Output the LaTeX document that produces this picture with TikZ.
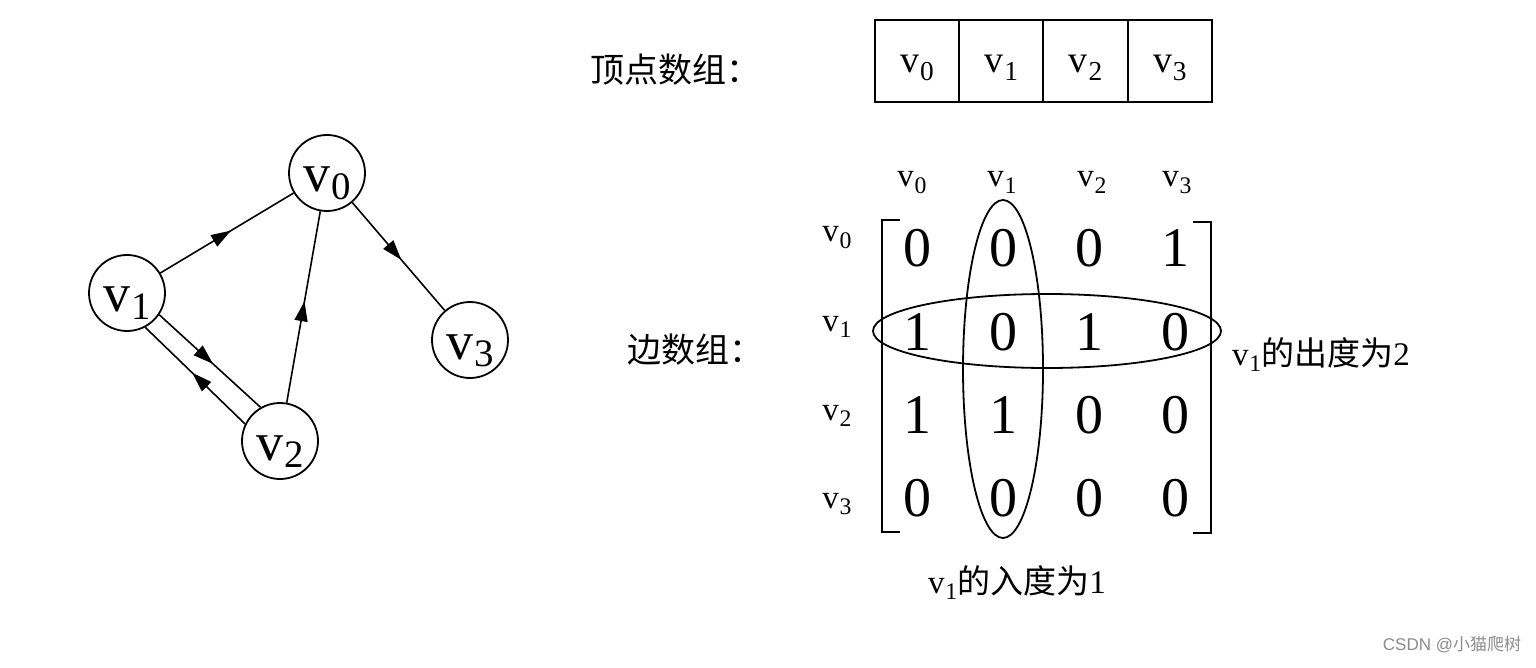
\documentclass[tikz,border=0pt]{standalone}
\usepackage{fontspec}
\usepackage{graphicx}
\setmainfont{Liberation Serif}
\newfontfamily\cjk{Noto Sans CJK SC}
\newfontfamily\wmfont{Liberation Sans}
\usetikzlibrary{decorations.markings,arrows.meta}
\newcommand{\vvsub}[2][0.2em]{v\kern0.02em\raisebox{-#1}{\scalebox{0.72}{#2}}}
\newcommand{\fs}[1]{\fontsize{#1pt}{#1pt}\selectfont}
\begin{document}
\begin{tikzpicture}[x=1pt,y=-1pt,
  vert/.style={circle,draw,line width=1.8pt,minimum size=76pt,inner sep=0pt,font=\fs{54},text height=38pt,text depth=0pt},
  edge/.style={line width=1.6pt},
  midarrow/.style={edge,decoration={markings,mark=at position 0.53 with {\arrow{Triangle[length=20pt,width=13pt]}}},postaction={decorate}},
  cell/.style={draw,line width=2pt,minimum width=84.25pt,minimum height=82pt,inner sep=0pt,font=\fs{38},text height=23pt,text depth=0pt},
  entry/.style={font=\fs{56},inner sep=0pt},
  hdr/.style={font=\fs{33},inner sep=0pt,anchor=base},
  lab/.style={font=\fs{34}\cjk,inner sep=0pt},
  bracket/.style={line width=2.6pt},
  ring/.style={line width=1.8pt}
]
\useasboundingbox (0,0) rectangle (1536,668);
\fill[white] (0,0) rectangle (1536,668);

% graph
\node[vert] (v0) at (327,173) {\vvsub[0.13em]{0}};
\node[vert] (v1) at (127,293) {\vvsub[0.13em]{1}};
\node[vert] (v2) at (280,441) {\vvsub[0.13em]{2}};
\node[vert] (v3) at (470,340) {\vvsub[0.13em]{3}};
\draw[midarrow] (v1) -- (v0);
\draw[midarrow] (v0) -- (v3);
\draw[midarrow] (v2) -- (v0);
\draw[midarrow] (v1.-34) -- (v2.120);
\draw[midarrow] (v2.154) -- (v1.-62);

% vertex array
\node[lab] (vlab) at (675,70) {顶点数组：};
\node[cell] (c0) at (917,61) {\vvsub{0}};
\node[cell] (c1) at (1001.25,61) {\vvsub{1}};
\node[cell] (c2) at (1085.5,61) {\vvsub{2}};
\node[cell] (c3) at (1169.75,61) {\vvsub{3}};

% edge array
\node[lab] (elab) at (695,350) {边数组：};
\foreach \j/\x in {0/912,1/1002,2/1092,3/1177}
  \node[hdr] (h\j) at (\x,187) {\vvsub{\j}};
\foreach \i/\y in {0/242,1/331,2/420,3/508}
  \node[hdr] (r\i) at (837,\y) {\vvsub{\i}};
\foreach \i/\y/\a/\b/\c/\d in {0/248/0/0/0/1,1/332/1/0/1/0,2/415/1/1/0/0,3/498/0/0/0/0}{
  \node[entry] (m\i0) at (917,\y) {\a};
  \node[entry] (m\i1) at (1003,\y) {\b};
  \node[entry] (m\i2) at (1089,\y) {\c};
  \node[entry] (m\i3) at (1175,\y) {\d};
}
\draw[bracket] (900,220) -- (882,220) -- (882,532) -- (900,532);
\draw[bracket] (1193,222) -- (1211,222) -- (1211,533) -- (1193,533);
\draw[ring] (1003,369) ellipse [x radius=40, y radius=169];
\draw[ring] (1047,331) ellipse [x radius=174, y radius=37];

\node[font=\fs{33},inner sep=0pt,anchor=base west] (outdeg) at (1232,365) {\vvsub{1}{\cjk 的出度为}2};
\node[font=\fs{33},inner sep=0pt,anchor=base] (indeg) at (1017,593) {\vvsub{1}{\cjk 的入度为}1};

% watermark
\node[font=\fs{17}\wmfont,text=black!45,inner sep=0pt] (wm) at (1452,645) {CSDN @{\cjk 小猫爬树}};
\end{tikzpicture}
\end{document}
